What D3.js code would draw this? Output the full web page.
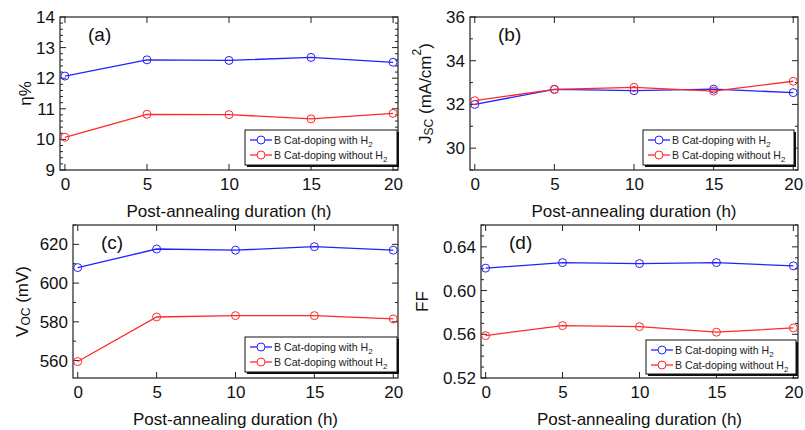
<!DOCTYPE html>
<html><head><meta charset="utf-8">
<script src="https://cdn.jsdelivr.net/npm/d3@7"></script>
<style>body{margin:0;background:#fff}svg{display:block;font-family:"Liberation Sans",Arial,sans-serif}</style>
</head><body>
<svg id="c" width="805" height="430"></svg>
<script>
const durations = [0, 5, 10, 15, 20];
const xTicks = [0, 5, 10, 15, 20];
const seriesNames = ["B Cat-doping with H", "B Cat-doping without H"];

const etaWithH2    = [12.07, 12.60, 12.58, 12.68, 12.52];
const etaWithoutH2 = [10.07, 10.82, 10.81, 10.67, 10.85];
const etaTicks = [9, 10, 11, 12, 13, 14];

const jscWithH2    = [32.00, 32.69, 32.63, 32.70, 32.54];
const jscWithoutH2 = [32.17, 32.69, 32.78, 32.61, 33.06];
const jscTicks = [30, 32, 34, 36];

const vocWithH2    = [608, 617.6, 617, 618.8, 617];
const vocWithoutH2 = [559.5, 582.5, 583.2, 583.2, 581.5];
const vocTicks = [560, 580, 600, 620];

const ffWithH2    = [0.6205, 0.6256, 0.6247, 0.6256, 0.6226];
const ffWithoutH2 = [0.5588, 0.5679, 0.5670, 0.5619, 0.5658];
const ffTicks = [0.52, 0.56, 0.60, 0.64];

const colors = ["#2222ff", "#ff2a2a"];
const svg = d3.select("#c");

const panels = [
  {tag:"(a)", box:[60,17,398,170], yDom:[9,14], ticks:etaTicks, minor:0.2, fmt:d3.format("d"),
   s:[etaWithH2, etaWithoutH2], ylab:"eta", ylx:25, leg:[245,130,397,165]},
  {tag:"(b)", box:[470,17,798,170], yDom:[29,36], ticks:jscTicks, minor:1, fmt:d3.format("d"),
   s:[jscWithH2, jscWithoutH2], ylab:"jsc", ylx:425, leg:[643,130,794,165]},
  {tag:"(c)", box:[73,225,398,378], yDom:[551,630], ticks:vocTicks, minor:10, fmt:d3.format("d"),
   s:[vocWithH2, vocWithoutH2], ylab:"voc", ylx:22, leg:[245,337,397,372]},
  {tag:"(d)", box:[481,225,798,378], yDom:[0.52,0.66], ticks:ffTicks, minor:0.01, fmt:d3.format(".2f"),
   s:[ffWithH2, ffWithoutH2], ylab:"ff", ylx:422, leg:[646,340,796,374]}
];

panels.forEach(p => {
  const [x0,y0,x1,y1] = p.box;
  const x = d3.scaleLinear().domain([-0.3, 20.3]).range([x0, x1]);
  const y = d3.scaleLinear().domain(p.yDom).range([y1, y0]);
  const g = svg.append("g");

  const minorVals = d3.range(Math.ceil(p.yDom[0]/p.minor - 1e-6), Math.floor(p.yDom[1]/p.minor + 1e-6)+1)
      .map(k => +(k*p.minor).toFixed(4))
      .filter(v => !p.ticks.some(t => Math.abs(t - v) < 1e-6));
  [[x0, 1],[x1,-1]].forEach(([xx, dir]) => {
    g.selectAll(null).data(minorVals).enter().append("line")
      .attr("x1", xx).attr("x2", xx + dir*3)
      .attr("y1", d => y(d)).attr("y2", d => y(d))
      .attr("stroke", "#222").attr("stroke-width", 1);
    g.selectAll(null).data(p.ticks).enter().append("line")
      .attr("x1", xx).attr("x2", xx + dir*6)
      .attr("y1", d => y(d)).attr("y2", d => y(d))
      .attr("stroke", "#222").attr("stroke-width", 1);
  });
  [[y1,-1],[y0,1]].forEach(([yy, dir]) => {
    g.selectAll(null).data(xTicks).enter().append("line")
      .attr("x1", d => x(d)).attr("x2", d => x(d))
      .attr("y1", yy).attr("y2", yy + dir*6)
      .attr("stroke", "#222").attr("stroke-width", 1);
  });

  const yAxis = d3.axisLeft(y).tickValues(p.ticks).tickFormat(p.fmt).tickSize(0).tickPadding(5);
  const ya = g.append("g").attr("transform", `translate(${x0},0)`).call(yAxis);
  ya.select(".domain").remove();
  ya.selectAll("text").attr("font-size", 17).attr("fill", "#111").attr("font-family", "Liberation Sans, Arial");
  const xAxis = d3.axisBottom(x).tickValues(xTicks).tickFormat(d3.format("d")).tickSize(0).tickPadding(8);
  const xa = g.append("g").attr("transform", `translate(0,${y1})`).call(xAxis);
  xa.select(".domain").remove();
  xa.selectAll("text").attr("font-size", 17).attr("fill", "#111").attr("font-family", "Liberation Sans, Arial");

  g.append("rect").attr("x", x0).attr("y", y0).attr("width", x1-x0).attr("height", y1-y0)
    .attr("fill", "none").attr("stroke", "#222").attr("stroke-width", 1.2);

  p.s.forEach((vals, i) => {
    const pts = durations.map((d, j) => [d, vals[j]]);
    g.append("path").datum(pts)
      .attr("d", d3.line().x(d => x(d[0])).y(d => y(d[1])))
      .attr("fill", "none").attr("stroke", colors[i]).attr("stroke-width", 1.3);
    g.selectAll(null).data(pts).enter().append("circle")
      .attr("cx", d => x(d[0])).attr("cy", d => y(d[1])).attr("r", 4)
      .attr("fill", "none").attr("stroke", colors[i]).attr("stroke-width", 1);
  });

  g.append("text").attr("x", x0 + 28).attr("y", y0 + 24).attr("font-size", 19).attr("fill", "#111").text(p.tag);

  g.append("text").attr("x", (x0+x1)/2).attr("y", y1 + 47).attr("text-anchor", "middle")
    .attr("font-size", 17).attr("fill", "#111").text("Post-annealing duration (h)");

  const cy = (y0 + y1)/2;
  const yl = g.append("text").attr("transform", `translate(${p.ylx},${cy}) rotate(-90)`)
    .attr("text-anchor", "middle").attr("dominant-baseline", "central").attr("font-size", 17).attr("fill", "#111");
  if (p.ylab === "eta") { yl.text("η%"); }
  else if (p.ylab === "ff") { yl.text("FF"); }
  else if (p.ylab === "voc") {
    yl.append("tspan").text("V");
    yl.append("tspan").attr("font-size", 12).attr("dy", 4).text("OC");
    yl.append("tspan").attr("dy", -4).text(" (mV)");
  } else {
    yl.append("tspan").text("J");
    yl.append("tspan").attr("font-size", 12).attr("dy", 4).text("SC");
    yl.append("tspan").attr("dy", -4).text(" (mA/cm");
    yl.append("tspan").attr("font-size", 12).attr("dy", -8).text("2");
    yl.append("tspan").attr("dy", 8).text(")");
  }

  const [lx0, ly0, lx1, ly1] = p.leg;
  g.append("rect").attr("x", lx0+2).attr("y", ly0+2).attr("width", lx1-lx0).attr("height", ly1-ly0).attr("fill", "#111");
  g.append("rect").attr("x", lx0).attr("y", ly0).attr("width", lx1-lx0).attr("height", ly1-ly0)
    .attr("fill", "#fff").attr("stroke", "#111").attr("stroke-width", 1);
  seriesNames.forEach((nm, i) => {
    const ry = ly0 + 10 + i*15;
    g.append("line").attr("x1", lx0+5).attr("x2", lx0+27).attr("y1", ry).attr("y2", ry)
      .attr("stroke", colors[i]).attr("stroke-width", 1.3);
    g.append("circle").attr("cx", lx0+16).attr("cy", ry).attr("r", 4)
      .attr("fill", "#fff").attr("stroke", colors[i]).attr("stroke-width", 1);
    const t = g.append("text").attr("x", lx0+29).attr("y", ry + 4).attr("font-size", 10.6).attr("fill", "#222");
    t.append("tspan").text(nm);
    t.append("tspan").attr("font-size", 8).attr("dy", 3).text("2");
  });
});
</script>
</body></html>
